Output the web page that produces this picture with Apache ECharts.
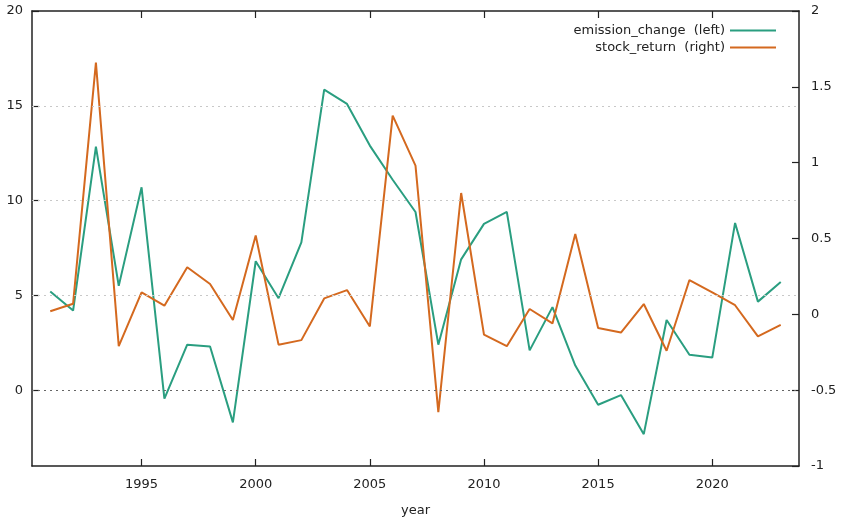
<!DOCTYPE html>
<html>
<head>
<meta charset="utf-8">
<title>emission_change vs stock_return</title>
<script src="https://cdn.jsdelivr.net/npm/echarts@6/dist/echarts.min.js"></script>
<style>
  html, body { margin: 0; padding: 0; background: #fff; }
  #chart { width: 841px; height: 518px; }
</style>
</head>
<body>
<div id="chart"></div>
<script>
// values
const years = [1991, 1992, 1993, 1994, 1995, 1996, 1997, 1998, 1999, 2000,
  2001, 2002, 2003, 2004, 2005, 2006, 2007, 2008, 2009, 2010,
  2011, 2012, 2013, 2014, 2015, 2016, 2017, 2018, 2019, 2020,
  2021, 2022, 2023]
const emissionChange = [5.2, 4.2, 12.85, 5.5, 10.7, -0.45, 2.4, 2.3, -1.7, 6.8,
  4.85, 7.8, 15.85, 15.1, 12.9, 11.1, 9.4, 2.4, 6.9, 8.77,
  9.4, 2.1, 4.38, 1.3, -0.77, -0.26, -2.32, 3.7, 1.87, 1.72,
  8.82, 4.67, 5.7]
const stockReturn = [0.02, 0.07, 1.66, -0.21, 0.145, 0.057, 0.31, 0.2, -0.037, 0.52,
  -0.2, -0.17, 0.105, 0.16, -0.08, 1.31, 0.98, -0.645, 0.8, -0.134,
  -0.21, 0.035, -0.06, 0.53, -0.09, -0.12, 0.068, -0.24, 0.226, 0.145,
  0.06, -0.145, -0.07]

const xTickYears = [1995, 2000, 2005, 2010, 2015, 2020]
const leftTicks = [0, 5, 10, 15, 20]
const leftGrid = [5, 10, 15]

const seriesNames = ['emission_change  (left)', 'stock_return  (right)']
const colors = ['#2a9e80', '#d4691f']

const font = 'DejaVu Sans'
const textColor = '#222'
const frameColor = '#222'

const xMin = 1990.2
const xMax = 2023.8

const chart = echarts.init(document.getElementById('chart'))

const pairs = (ys) => years.map((y, i) => [y, ys[i]])

const legendItem = (name, top) => ({
  data: [name],
  right: 60, top: top,
  align: 'right',
  icon: 'rect', itemWidth: 46, itemHeight: 2,
  textStyle: { fontFamily: font, fontSize: 13, color: textColor },
  selectedMode: false
})

const tickStyle = { color: frameColor, width: 1.2 }
const frameLine = { show: true, onZero: false, lineStyle: { color: frameColor, width: 1.5 } }

// gnuplot draws ticks inward; an axis pulled 7px into the grid with outward
// ticks gives the same look
const tickOnly = (extra) => Object.assign({
  type: 'value',
  offset: -7,
  axisLine: { show: false, onZero: false },
  axisTick: { show: true, inside: false, length: 7, lineStyle: tickStyle },
  axisLabel: { show: false },
  splitLine: { show: false }
}, extra)

const options = {
  animation: false,
  textStyle: { fontFamily: font },
  grid: { left: 32, right: 42, top: 11, bottom: 52, containLabel: false, outerBoundsMode: 'none' },
  legend: [legendItem(seriesNames[0], 19), legendItem(seriesNames[1], 36)],
  xAxis: [
    {
      type: 'value',
      min: xMin,
      max: xMax,
      name: 'year',
      nameLocation: 'middle',
      nameGap: 38,
      nameTextStyle: { fontFamily: font, fontSize: 13, color: textColor },
      axisLine: frameLine,
      axisTick: { show: false },
      axisLabel: { customValues: xTickYears, formatter: v => String(v), margin: 12, fontSize: 13, color: textColor, fontFamily: font },
      splitLine: { show: false }
    },
    {
      type: 'value',
      position: 'top',
      min: xMin,
      max: xMax,
      axisLine: frameLine,
      axisTick: { show: false },
      axisLabel: { show: false },
      splitLine: { show: false }
    },
    tickOnly({ position: 'bottom', min: xMin, max: xMax,
      axisTick: { show: true, inside: false, length: 7, customValues: xTickYears, lineStyle: tickStyle } }),
    tickOnly({ position: 'top', min: xMin, max: xMax,
      axisTick: { show: true, inside: false, length: 7, customValues: xTickYears, lineStyle: tickStyle } })
  ],
  yAxis: [
    {
      type: 'value',
      min: -4,
      max: 20,
      axisLine: frameLine,
      axisTick: { show: false },
      axisLabel: { customValues: leftTicks, margin: 9, fontSize: 13, color: textColor, fontFamily: font },
      splitLine: { show: false }
    },
    {
      type: 'value',
      min: -1,
      max: 2,
      interval: 0.5,
      position: 'right',
      axisLine: frameLine,
      axisTick: { show: false },
      axisLabel: { margin: 12, fontSize: 13, color: textColor, fontFamily: font },
      splitLine: { show: false }
    },
    tickOnly({ position: 'left', min: -4, max: 20,
      axisTick: { show: true, inside: false, length: 7, customValues: leftTicks, lineStyle: tickStyle } }),
    tickOnly({ position: 'right', min: -1, max: 2, interval: 0.5 })
  ],
  series: [
    {
      name: seriesNames[0],
      type: 'line',
      xAxisIndex: 0,
      yAxisIndex: 0,
      data: pairs(emissionChange),
      symbol: 'none',
      color: colors[0],
      lineStyle: { width: 2, color: colors[0] },
      markLine: {
        silent: true,
        symbol: 'none',
        label: { show: false },
        data: leftGrid.map(v => ({ yAxis: v, lineStyle: { color: '#c8c8c8', type: [2, 4], width: 1 } }))
          .concat([{ yAxis: 0, lineStyle: { color: '#666', type: [2, 4], width: 1 } }])
      }
    },
    {
      name: seriesNames[1],
      type: 'line',
      xAxisIndex: 0,
      yAxisIndex: 1,
      data: pairs(stockReturn),
      symbol: 'none',
      color: colors[1],
      lineStyle: { width: 2, color: colors[1] }
    }
  ]
}

chart.setOption(options)
</script>
</body>
</html>
